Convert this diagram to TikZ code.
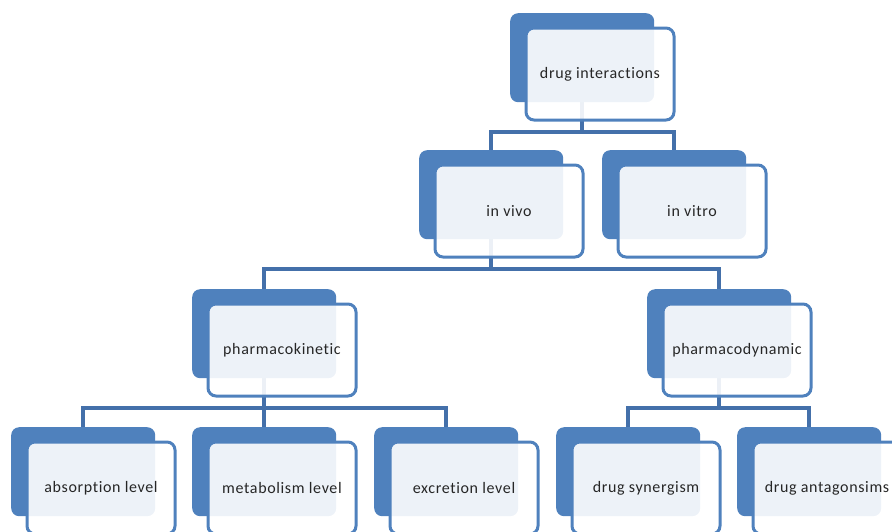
\documentclass[tikz,border=0pt]{standalone}
\usepackage{fontspec}
\setmainfont[Ligatures=NoCommon,LetterSpace=4]{Carlito}
\usepackage{tikz}
\usetikzlibrary{backgrounds}
\definecolor{boxblue}{RGB}{79,129,189}
\definecolor{lineblue}{RGB}{68,112,170}

\begin{document}
\begin{tikzpicture}[x=1pt,y=-1pt,
    back/.style={anchor=north west,fill=boxblue,rounded corners=8pt,
      inner sep=0pt,minimum width=144pt,minimum height=89pt},
    front/.style={anchor=north west,draw=boxblue,line width=3pt,
      fill=white,fill opacity=.9,text opacity=1,rounded corners=8pt,
      inner sep=0pt,minimum width=148pt,minimum height=92pt,
      font=\fontsize{16}{19}\selectfont,text=black!85},
    link/.style={draw=lineblue,line width=4pt}]
    \useasboundingbox (0,0) rectangle (892,531);
    \foreach \n/\x/\y/\t in {top/510/13/drug interactions,
      vivo/419/150/in vivo, vitro/602/150/in vitro,
      pk/192/289/pharmacokinetic, pd/647/289/pharmacodynamic,
      abs/11/427/absorption level, met/192/427/metabolism level,
      exc/374/427/excretion level, syn/556/427/drug synergism,
      ant/737/427/drug antagonsims}
    {
      \node[back] (b\n) at (\x,\y) {};
      \node[front] (f\n) at ([xshift=14.5pt,yshift=-13.5pt]b\n.north west) {\t};
    }
    % tree connectors behind the boxes
    \begin{scope}[on background layer]
      \foreach \p/\c in {top/vivo, top/vitro, vivo/pk, vivo/pd,
        pk/abs, pk/met, pk/exc, pd/syn, pd/ant}
      \draw[link] (b\p.south) -- ++(0,30) -| (b\c.north);
    \end{scope}
  \end{tikzpicture}
\end{document}
